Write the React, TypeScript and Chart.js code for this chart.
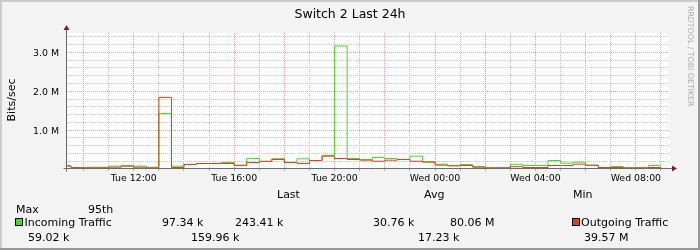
import React, { useEffect, useRef } from 'react';
import { Chart, registerables } from 'chart.js';

Chart.register(...registerables);

// ---- data (hours since Tue 00:00, values in M bits/sec) ----
const startHour = 9.34;
const endHour = 33.32;
const slotHours = [9.34, 9.5, 10, 10.5, 11, 11.5, 12, 12.5, 13, 13.5, 14, 14.5, 15, 15.5, 16, 16.5, 17, 17.5, 18, 18.5, 19, 19.5, 20, 20.5, 21, 21.5, 22, 22.5, 23, 23.5, 24, 24.5, 25, 25.5, 26, 26.5, 27, 27.5, 28, 28.5, 29, 29.5, 30, 30.5, 31, 31.5, 32, 32.5];
const lastSlotEnd = 33.0;
const incoming = [0.085, 0.038, 0.046, 0.046, 0.072, 0.089, 0.072, 0.046, 1.43, 0.072, 0.118, 0.141, 0.141, 0.167, 0.094, 0.268, 0.196, 0.265, 0.167, 0.262, 0.219, 0.348, 3.165, 0.27, 0.245, 0.296, 0.27, 0.245, 0.33, 0.193, 0.124, 0.09, 0.115, 0.064, 0.03, 0.03, 0.12, 0.09, 0.09, 0.219, 0.15, 0.175, 0.1, 0.038, 0.064, 0.03, 0.032, 0.09];
const outgoing = [0.075, 0.035, 0.03, 0.03, 0.046, 0.072, 0.046, 0.03, 1.843, 0.038, 0.118, 0.141, 0.141, 0.141, 0.094, 0.167, 0.196, 0.245, 0.167, 0.141, 0.219, 0.33, 0.27, 0.245, 0.227, 0.2, 0.227, 0.245, 0.2, 0.175, 0.098, 0.08, 0.09, 0.046, 0.03, 0.03, 0.06, 0.038, 0.038, 0.09, 0.09, 0.124, 0.095, 0.038, 0.038, 0.03, 0.03, 0.038];

const yMax = 3.5;
const yMinorStep = 0.2;
const yMajorTicks = [1, 2, 3];
const yMajorLabels = ['1.0 M', '2.0 M', '3.0 M'];
const xGridHours = [10, 11, 12, 13, 14, 15, 16, 17, 18, 19, 20, 21, 22, 23, 24, 25, 26, 27, 28, 29, 30, 31, 32, 33];
const xLabelHours = [12, 16, 20, 24, 28, 32];
const xLabels = ['Tue 12:00', 'Tue 16:00', 'Tue 20:00', 'Wed 00:00', 'Wed 04:00', 'Wed 08:00'];

const title = 'Switch 2 Last 24h';
const yTitle = 'Bits/sec';
const watermark = 'RRDTOOL / TOBI OETIKER';
const seriesNames = ['Incoming Traffic', 'Outgoing Traffic'];
const legendHeader = ['Last', 'Avg', 'Min', 'Max', '95th'];
const incomingStats = ['97.34 k', '243.41 k', '30.76 k', '80.06 M'];
const outgoingStats = ['59.02 k', '159.96 k', '17.23 k', '39.57 M'];

const GREEN = '#44DD22';
const RED = '#E03C1E';
const FONT = '"DejaVu Sans", sans-serif';

function toPoints(vals: number[]) {
  const pts = slotHours.map((h, i) => ({ x: h, y: vals[i] }));
  pts.push({ x: lastSlotEnd, y: vals[vals.length - 1] });
  return pts;
}

const al = (v: number) => Math.round(v - 0.5) + 0.5;

const rrdPlugin = {
  id: 'rrd',
  beforeDraw(chart: any) {
    const ctx = chart.ctx as CanvasRenderingContext2D;
    const W = chart.width, H = chart.height;
    const a = chart.chartArea;
    ctx.save();
    ctx.fillStyle = '#F3F3F3';
    ctx.fillRect(0, 0, W, H);
    // frame
    ctx.fillStyle = '#CBCBCB';
    ctx.fillRect(0, 0, W, 2);
    ctx.fillRect(0, 0, 2, H);
    ctx.fillStyle = '#999999';
    ctx.fillRect(0, H - 2, W, 2);
    ctx.fillRect(W - 2, 0, 2, H);
    // canvas
    ctx.fillStyle = '#FFFFFF';
    ctx.fillRect(a.left, a.top, a.right - a.left + 1, a.bottom - a.top);
    ctx.restore();
  },
  beforeDatasetsDraw(chart: any) {
    const ctx = chart.ctx as CanvasRenderingContext2D;
    const a = chart.chartArea;
    const xs = chart.scales.x, ys = chart.scales.y;
    ctx.save();
    ctx.lineWidth = 1;
    ctx.setLineDash([1, 1]);
    // horizontal minor / major
    const n = Math.round(yMax / yMinorStep);
    for (let i = 1; i <= n; i++) {
      const v = i * yMinorStep;
      if (v >= yMax) continue;
      const major = yMajorTicks.some((t) => Math.abs(t - v) < 1e-6);
      const y = al(ys.getPixelForValue(v));
      ctx.strokeStyle = major ? '#F09A9A' : '#C4C4C4';
      ctx.beginPath();
      ctx.moveTo(a.left, y);
      ctx.lineTo(a.right, y);
      ctx.stroke();
    }
    for (const h of xGridHours) {
      const x = al(xs.getPixelForValue(h));
      const major = h % 2 === 0;
      ctx.strokeStyle = major ? '#F09A9A' : '#C4C4C4';
      ctx.beginPath();
      ctx.moveTo(x, a.top);
      ctx.lineTo(x, a.bottom);
      ctx.stroke();
    }
    ctx.restore();
  },
  afterDatasetsDraw(chart: any) {
    const ctx = chart.ctx as CanvasRenderingContext2D;
    const a = chart.chartArea;
    const xs = chart.scales.x;
    ctx.save();
    ctx.lineWidth = 1;
    // tick marks below x axis
    ctx.strokeStyle = '#B0B0B0';
    for (const h of xGridHours) {
      const x = al(xs.getPixelForValue(h));
      ctx.beginPath();
      ctx.moveTo(x, a.bottom);
      ctx.lineTo(x, a.bottom + 2);
      ctx.stroke();
    }
    // axes
    const x0 = al(a.left) - 1;
    const y0 = al(a.bottom) - 1;
    ctx.strokeStyle = '#6A6A6A';
    ctx.beginPath();
    ctx.moveTo(x0, y0 + 3);
    ctx.lineTo(x0, a.top - 4);
    ctx.moveTo(x0 - 3, y0);
    ctx.lineTo(a.right + 4, y0);
    ctx.stroke();
    // arrows
    ctx.fillStyle = '#802020';
    ctx.beginPath();
    ctx.moveTo(x0, a.top - 8);
    ctx.lineTo(x0 - 3, a.top - 3);
    ctx.lineTo(x0 + 3, a.top - 3);
    ctx.closePath();
    ctx.fill();
    ctx.beginPath();
    ctx.moveTo(a.right + 8, y0);
    ctx.lineTo(a.right + 3, y0 - 3);
    ctx.lineTo(a.right + 3, y0 + 3);
    ctx.closePath();
    ctx.fill();
    ctx.restore();
  },
  afterDraw(chart: any) {
    const ctx = chart.ctx as CanvasRenderingContext2D;
    const xs = chart.scales.x, ys = chart.scales.y;
    ctx.save();
    ctx.fillStyle = '#000';
    // title
    ctx.font = `12.5px ${FONT}`;
    ctx.textAlign = 'center';
    ctx.textBaseline = 'alphabetic';
    ctx.fillText(title, 350, 18);
    // axis labels
    ctx.font = `9.4px ${FONT}`;
    xLabelHours.forEach((h, i) => {
      ctx.fillText(xLabels[i], xs.getPixelForValue(h), 181);
    });
    ctx.textAlign = 'right';
    yMajorTicks.forEach((v, i) => {
      ctx.fillText(yMajorLabels[i], 59, ys.getPixelForValue(v) + 3.5);
    });
    // y title
    ctx.save();
    ctx.font = `11px ${FONT}`;
    ctx.translate(12, 100);
    ctx.rotate(-Math.PI / 2);
    ctx.textAlign = 'center';
    ctx.textBaseline = 'middle';
    ctx.fillText(yTitle, 0, 0);
    ctx.restore();
    // watermark
    ctx.save();
    ctx.font = `7.8px ${FONT}`;
    ctx.fillStyle = '#ABABAB';
    ctx.translate(690.5, 6);
    ctx.rotate(Math.PI / 2);
    ctx.textAlign = 'left';
    ctx.textBaseline = 'middle';
    ctx.fillText(watermark, 0, 0);
    ctx.restore();
    // legend
    ctx.font = `11px ${FONT}`;
    ctx.textAlign = 'left';
    ctx.textBaseline = 'alphabetic';
    ctx.fillText(legendHeader[0], 277, 198);
    ctx.fillText(legendHeader[1], 424, 198);
    ctx.fillText(legendHeader[2], 573, 198);
    ctx.fillText(legendHeader[3], 16, 212.5);
    ctx.fillText(legendHeader[4], 88, 212.5);
    // boxes
    const box = (x: number, col: string) => {
      ctx.fillStyle = col;
      ctx.fillRect(x, 218, 8, 8);
      ctx.strokeStyle = '#000';
      ctx.lineWidth = 1;
      ctx.strokeRect(x + 0.5, 218.5, 7, 7);
      ctx.fillStyle = '#000';
    };
    box(15, GREEN);
    box(572, RED);
    ctx.fillText(seriesNames[0], 24.5, 226);
    ctx.fillText(incomingStats[0], 162, 226);
    ctx.fillText(incomingStats[1], 235, 226);
    ctx.fillText(incomingStats[2], 373, 226);
    ctx.fillText(incomingStats[3], 450, 226);
    ctx.fillText(seriesNames[1], 581, 226);
    ctx.fillText(outgoingStats[0], 28, 240.5);
    ctx.fillText(outgoingStats[1], 191, 240.5);
    ctx.fillText(outgoingStats[2], 418, 240.5);
    ctx.fillText(outgoingStats[3], 584, 240.5);
    ctx.restore();
  },
};

export default function App() {
  const ref = useRef<HTMLCanvasElement | null>(null);
  useEffect(() => {
    const canvas = ref.current;
    if (!canvas) return;
    const chart = new Chart(canvas, {
      type: 'line',
      data: {
        datasets: [
          {
            label: seriesNames[0],
            data: toPoints(incoming),
            borderColor: GREEN,
            borderWidth: 1,
            stepped: 'before',
            pointRadius: 0,
            fill: false,
            order: 1,
          },
          {
            label: seriesNames[1],
            data: toPoints(outgoing),
            borderColor: RED,
            borderWidth: 1,
            stepped: 'before',
            pointRadius: 0,
            fill: false,
            order: 0,
          },
        ],
      },
      options: {
        responsive: false,
        devicePixelRatio: 1,
        animation: false,
        layout: { padding: { left: 67, right: 31, top: 33, bottom: 81 } },
        scales: {
          x: { type: 'linear', min: startHour, max: endHour, display: false },
          y: { type: 'linear', min: 0, max: yMax, display: false },
        },
        plugins: { legend: { display: false }, tooltip: { enabled: false } },
        events: [],
      },
      plugins: [rrdPlugin],
    } as any);
    return () => chart.destroy();
  }, []);
  return (
    <div style={{ position: 'absolute', left: 0, top: 0, width: 700, height: 250 }}>
      <canvas ref={ref} width={700} height={250} style={{ display: 'block', width: 700, height: 250 }} />
    </div>
  );
}
